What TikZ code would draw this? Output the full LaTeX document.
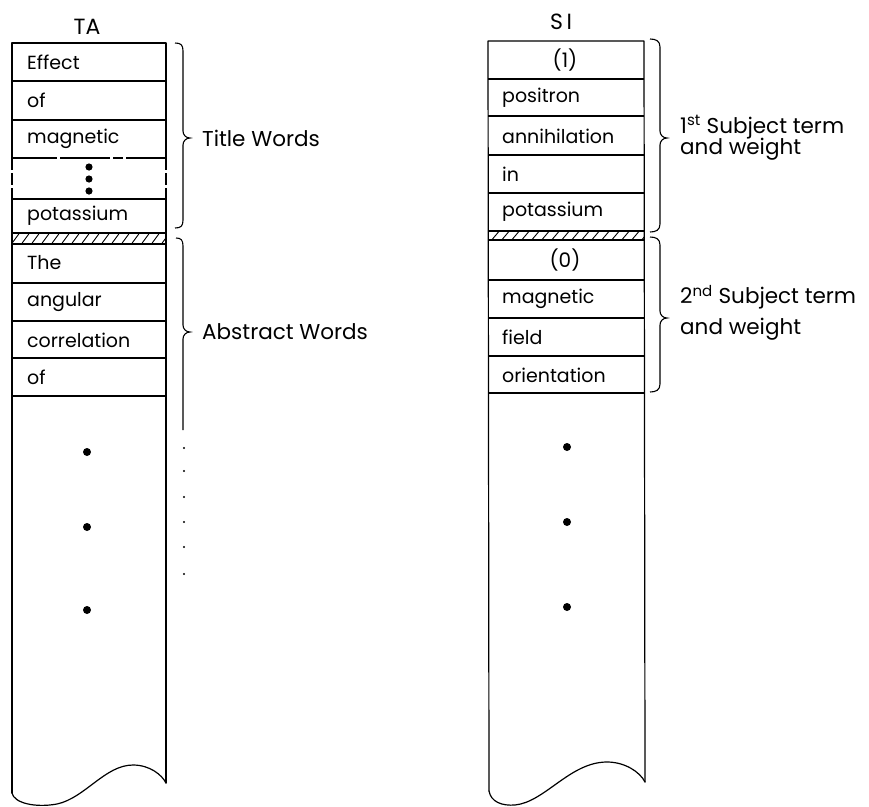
\documentclass[tikz,border=0pt]{standalone}
\usepackage{fontspec}
\setmainfont{Poppins}
\begin{document}
\begin{tikzpicture}[x=1pt,y=-1pt,
  colline/.style={line width=1.2pt,line cap=round,line join=round},
  sepline/.style={line width=1.1pt},
  brc/.style={line width=1.1pt},
  word/.style={anchor=west,inner sep=0pt,font=\fontsize{19}{21}\selectfont},
  lab/.style={anchor=west,inner sep=0pt,font=\fontsize{21.5}{23}\selectfont},
  ttl/.style={inner sep=0pt,font=\fontsize{20}{22}\selectfont},
  head/.style={inner sep=0pt,font=\fontsize{22}{24}\selectfont}]
\useasboundingbox (0,0) rectangle (869,806);
% ---------------- left column TA ----------------
\node[head] (ta) at (87,27) {TA};
\draw[colline] (12,793) -- (12,43) -- (166,43) -- (166,783);
\draw[colline] (12,793) .. controls (14,803) and (35,808) .. (57,804)
  .. controls (85,798) and (105,765) .. (133,765)
  .. controls (150,765) and (162,775) .. (166,783);
\foreach \yy in {81,120,199,233,244,283,321,358,396}
  \draw[sepline] (12,\yy) -- (166,\yy);
\draw[sepline,dash pattern=on 45pt off 3pt on 50pt off 3pt on 10pt off 3pt] (12,158) -- (166,158);
% gap section
\fill[white] (10,160) rectangle (168,197);
\draw[sepline,dash pattern=on 12pt off 3pt] (12,158) -- (12,199);
\draw[sepline,dash pattern=on 12pt off 3pt] (166,158) -- (166,199);
\fill (89,167) circle (3.6);
\fill (89,179) circle (3.6);
\fill (89,191) circle (3.6);
% hatch
\begin{scope}
  \clip (12,233) rectangle (166,244);
  \foreach \xx in {0,10,...,180}
    \draw[line width=0.9pt] (\xx,246) -- (\xx+11,231);
\end{scope}
\node[word] (t1) at (27,62) {Effect};
\node[word] (t2) at (27,100) {of};
\node[word] (t3) at (27,139) {magnetic};
\node[word] (t4) at (27,216) {potassium};
\node[word] (a1) at (27,263) {The};
\node[word] (a2) at (27,302) {angular};
\node[word] (a3) at (27,340) {correlation};
\node[word] (a4) at (27,377) {of};
\fill (87,452) circle (4);
\fill (87,527) circle (4);
\fill (87,610) circle (4);
% braces left
\draw[brc] (175,43) .. controls (181,43) and (183,45) .. (183,51) -- (183,131)
  .. controls (183,135) and (186,138) .. (190,138)
  .. controls (186,138) and (183,141) .. (183,145) -- (183,220)
  .. controls (183,226) and (181,228) .. (175,228);
\node[lab] (tw) at (202,138) {Title Words};
\draw[brc] (176,238) .. controls (181,238) and (183,240) .. (183,246) -- (183,325)
  .. controls (183,329) and (186,332) .. (190,332)
  .. controls (186,332) and (183,335) .. (183,339) -- (183,430);
\foreach \yy in {448,471,497,522,547,574}
  \fill (184,\yy) circle (1.1);
\node[lab] (aw) at (202,332) {Abstract Words};
% ---------------- right column SI ----------------
\node[head] (si) at (561,22) {S\,I};
\draw[colline] (489,791) -- (488,41) -- (644,41) -- (645,782);
\draw[colline] (489,791) .. controls (491,802) and (502,806) .. (515,805)
  .. controls (545,802) and (570,762) .. (607,762)
  .. controls (625,762) and (640,772) .. (645,782);
\foreach \yy in {79,116,155,193,231,240,280,318,356,393}
  \draw[sepline] (488,\yy) -- (644,\yy);
\begin{scope}
  \clip (488,231) rectangle (644,240);
  \foreach \xx in {480,490,...,650}
    \draw[line width=0.9pt] (\xx,242) -- (\xx+11,229);
\end{scope}
\node[ttl] (w0) at (565,60) {(1)};
\node[word] (w1) at (502,98) {positron};
\node[word] (w2) at (502,136) {annihilation};
\node[word] (w3) at (502,174) {in};
\node[word] (w4) at (502,212) {potassium};
\node[ttl] (v0) at (565,260) {(0)};
\node[word] (v1) at (502,299) {magnetic};
\node[word] (v2) at (502,337) {field};
\node[word] (v3) at (502,375) {orientation};
\fill (567,447) circle (4);
\fill (567,522) circle (4);
\fill (567,607) circle (4);
% braces right
\draw[brc] (650,39) .. controls (656,39) and (660,41) .. (660,47) -- (660,131)
  .. controls (660,135) and (663,138) .. (667,138)
  .. controls (663,138) and (660,141) .. (660,145) -- (660,224)
  .. controls (660,230) and (656,232) .. (650,232);
\draw[brc] (650,237) .. controls (656,237) and (660,239) .. (660,245) -- (660,311)
  .. controls (660,315) and (663,318) .. (667,318)
  .. controls (663,318) and (660,321) .. (660,325) -- (660,384)
  .. controls (660,390) and (656,392) .. (650,392);
\node[lab] (s1) at (680,127) {1\textsuperscript{st} Subject term};
\node[lab] (s1b) at (680,149) {and weight};
\node[lab] (s2) at (680,297) {2\textsuperscript{nd} Subject term};
\node[lab] (s2b) at (680,329) {and weight};
\end{tikzpicture}
\end{document}
